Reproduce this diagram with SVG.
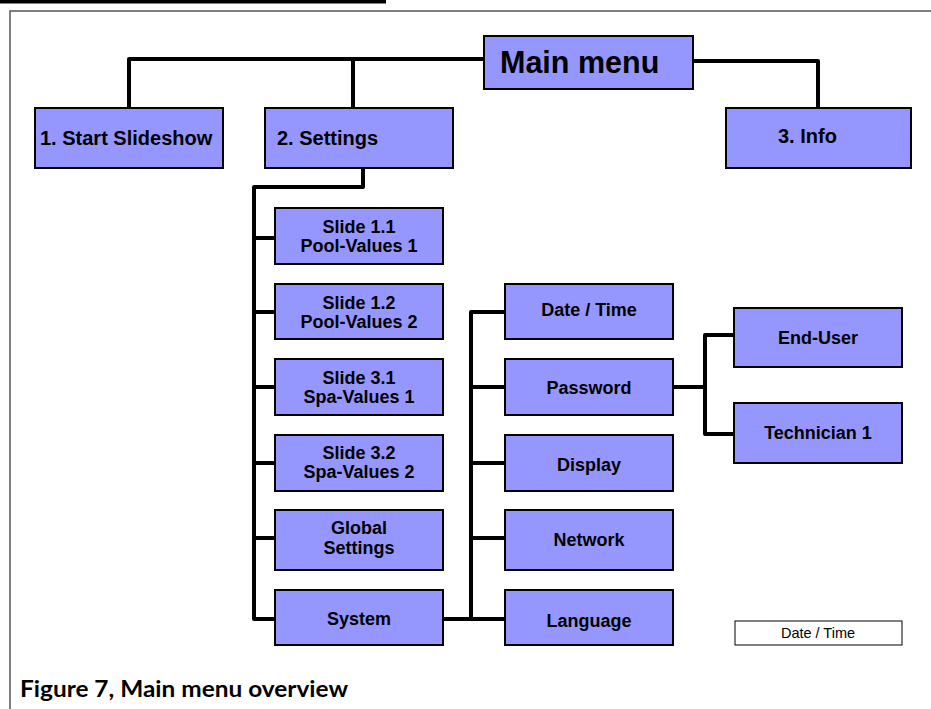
<svg xmlns="http://www.w3.org/2000/svg" width="931" height="709" viewBox="0 0 931 709">
<style>
.box{fill:#9696ff;stroke:#000;stroke-width:2}
.t{font-family:"Liberation Sans",Arial,sans-serif;font-weight:bold;fill:#000}
.t1{font-size:20px}
.t2{font-size:18px;text-anchor:middle}
.c{fill:none;stroke:#000;stroke-width:4;stroke-linejoin:round;stroke-linecap:butt}
</style>
<rect width="931" height="709" fill="#fff"/>
<rect x="0" y="0" width="386" height="3.5" fill="#000"/>
<path d="M10,709 V11 H931" fill="none" stroke="#555" stroke-width="1.5"/>
<g id="connectors">
<path class="c" d="M484,59 H129 V108"/>
<path class="c" d="M353,59 V108"/>
<path class="c" d="M693,61 H818 V108"/>
<path class="c" d="M363,168 V187 H254 V619 H275"/>
<path class="c" d="M254,238 H275 M254,312 H275 M254,387 H275 M254,463 H275 M254,538 H275"/>
<path class="c" d="M443,619 H505"/>
<path class="c" d="M505,312 H471 V619"/>
<path class="c" d="M471,387 H505 M471,463 H505 M471,538 H505"/>
<path class="c" d="M673,387 H705"/>
<path class="c" d="M734,335 H705 V434 H734"/>
</g>
<g id="main"><rect class="box" x="484" y="36" width="209" height="53"/><text class="t" x="500" y="73" font-size="30.5">Main menu</text></g>
<g id="start"><rect class="box" x="35" y="108" width="188" height="60"/><text class="t t1" x="40" y="145">1. Start Slideshow</text></g>
<g id="settings"><rect class="box" x="265" y="108" width="188" height="60"/><text class="t t1" x="277" y="145">2. Settings</text></g>
<g id="info"><rect class="box" x="726" y="108" width="185" height="60"/><text class="t t1" x="778" y="143">3. Info</text></g>
<g id="slide11"><rect class="box" x="275" y="208" width="168" height="56"/><text class="t t2" x="359" y="233">Slide 1.1</text><text class="t t2" x="359" y="252">Pool-Values 1</text></g>
<g id="slide12"><rect class="box" x="275" y="284" width="168" height="55"/><text class="t t2" x="359" y="309">Slide 1.2</text><text class="t t2" x="359" y="328">Pool-Values 2</text></g>
<g id="slide31"><rect class="box" x="275" y="359" width="168" height="56"/><text class="t t2" x="359" y="384">Slide 3.1</text><text class="t t2" x="359" y="403">Spa-Values 1</text></g>
<g id="slide32"><rect class="box" x="275" y="435" width="168" height="56"/><text class="t t2" x="359" y="459">Slide 3.2</text><text class="t t2" x="359" y="478">Spa-Values 2</text></g>
<g id="global"><rect class="box" x="275" y="510" width="168" height="60"/><text class="t t2" x="359" y="534">Global</text><text class="t t2" x="359" y="554">Settings</text></g>
<g id="system"><rect class="box" x="275" y="590" width="168" height="55"/><text class="t t2" x="359" y="625">System</text></g>
<g id="datetime"><rect class="box" x="505" y="284" width="168" height="55"/><text class="t t2" x="589" y="316">Date / Time</text></g>
<g id="password"><rect class="box" x="505" y="359" width="168" height="56"/><text class="t t2" x="589" y="394">Password</text></g>
<g id="display"><rect class="box" x="505" y="435" width="168" height="56"/><text class="t t2" x="589" y="471">Display</text></g>
<g id="network"><rect class="box" x="505" y="510" width="168" height="60"/><text class="t t2" x="589" y="546">Network</text></g>
<g id="language"><rect class="box" x="505" y="590" width="168" height="55"/><text class="t t2" x="589" y="627">Language</text></g>
<g id="enduser"><rect class="box" x="734" y="308" width="168" height="59"/><text class="t t2" x="818" y="344">End-User</text></g>
<g id="technician"><rect class="box" x="734" y="403" width="168" height="60"/><text class="t t2" x="818" y="439">Technician 1</text></g>
<g id="legend"><rect x="735" y="621" width="167" height="24" fill="#fff" stroke="#000" stroke-width="1"/><text x="818" y="638" font-family="Liberation Sans,Arial,sans-serif" font-size="14.5" text-anchor="middle">Date / Time</text></g>
<text x="20" y="697" font-family="Lato,'Open Sans',sans-serif" font-weight="bold" font-size="22" textLength="328" lengthAdjust="spacingAndGlyphs">Figure 7, Main menu overview</text>
</svg>
